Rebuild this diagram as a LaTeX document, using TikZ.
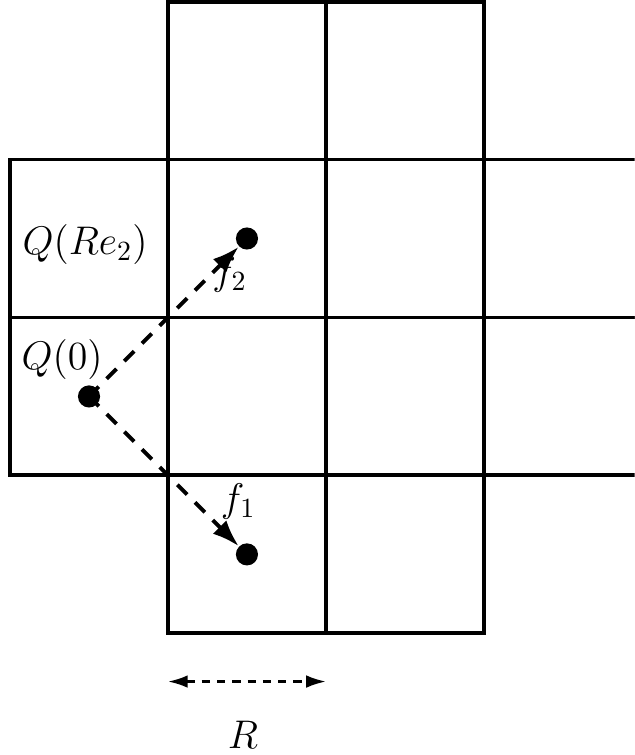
\documentclass[tikz,border=0pt]{standalone}
\usepackage{amsmath}
\usepackage{tikz}
\usetikzlibrary{arrows.meta}

\begin{document}
\begin{tikzpicture}[
            cell/.style={line width=1.4pt},
            dot/.style={circle, fill, inner sep=0pt, minimum size=0.28cm},
            arr/.style={-{Latex[length=0.34cm, width=0.24cm]}, line width=1.4pt,
                        dash pattern=on 5pt off 4pt},
            lab/.style={font=\Large}
        ]

        \useasboundingbox (-0.127,-1.54) rectangle (7.91,8.02);
        \clip (-0.127,-1.54) rectangle (7.91,8.02);

        % Grid
        \foreach \x in {2,4} \draw[cell] (\x,6) rectangle ++(2,2);
        \foreach \y in {2,4}
            \foreach \x in {0,2,4,6} \draw[cell] (\x,\y) rectangle ++(2,2);
        \foreach \x in {2,4} \draw[cell] (\x,0) rectangle ++(2,2);

        % Points
        \node[dot] (q0) at (1,3) {};
        \node[dot] (q2) at (3,5) {};
        \node[dot] (q1) at (3,1) {};

        % Arrows
        \draw[arr] (q0.center) -- (q2);
        \draw[arr] (q0.center) -- (q1);

        % Labels
        \node[lab] (lre) at (0.95,4.92) {$Q(Re_2)$};
        \node[lab] (lzero) at (0.66,3.47) {$Q(0)$};
        \node[lab] (lf2) at (2.78,4.54) {$f_2$};
        \node[lab] (lf1) at (2.89,1.67) {$f_1$};

        % Scale bar
        \coordinate (ra) at (2,-0.61);
        \coordinate (rb) at (4,-0.61);
        \draw[{Latex[length=0.25cm, width=0.16cm]}-{Latex[length=0.25cm, width=0.16cm]},
              line width=0.9pt, dash pattern=on 3pt off 2.5pt] (ra) -- (rb);
        \node[lab] (rlab) at (2.95,-1.28) {$R$};

        \end{tikzpicture}
\end{document}
